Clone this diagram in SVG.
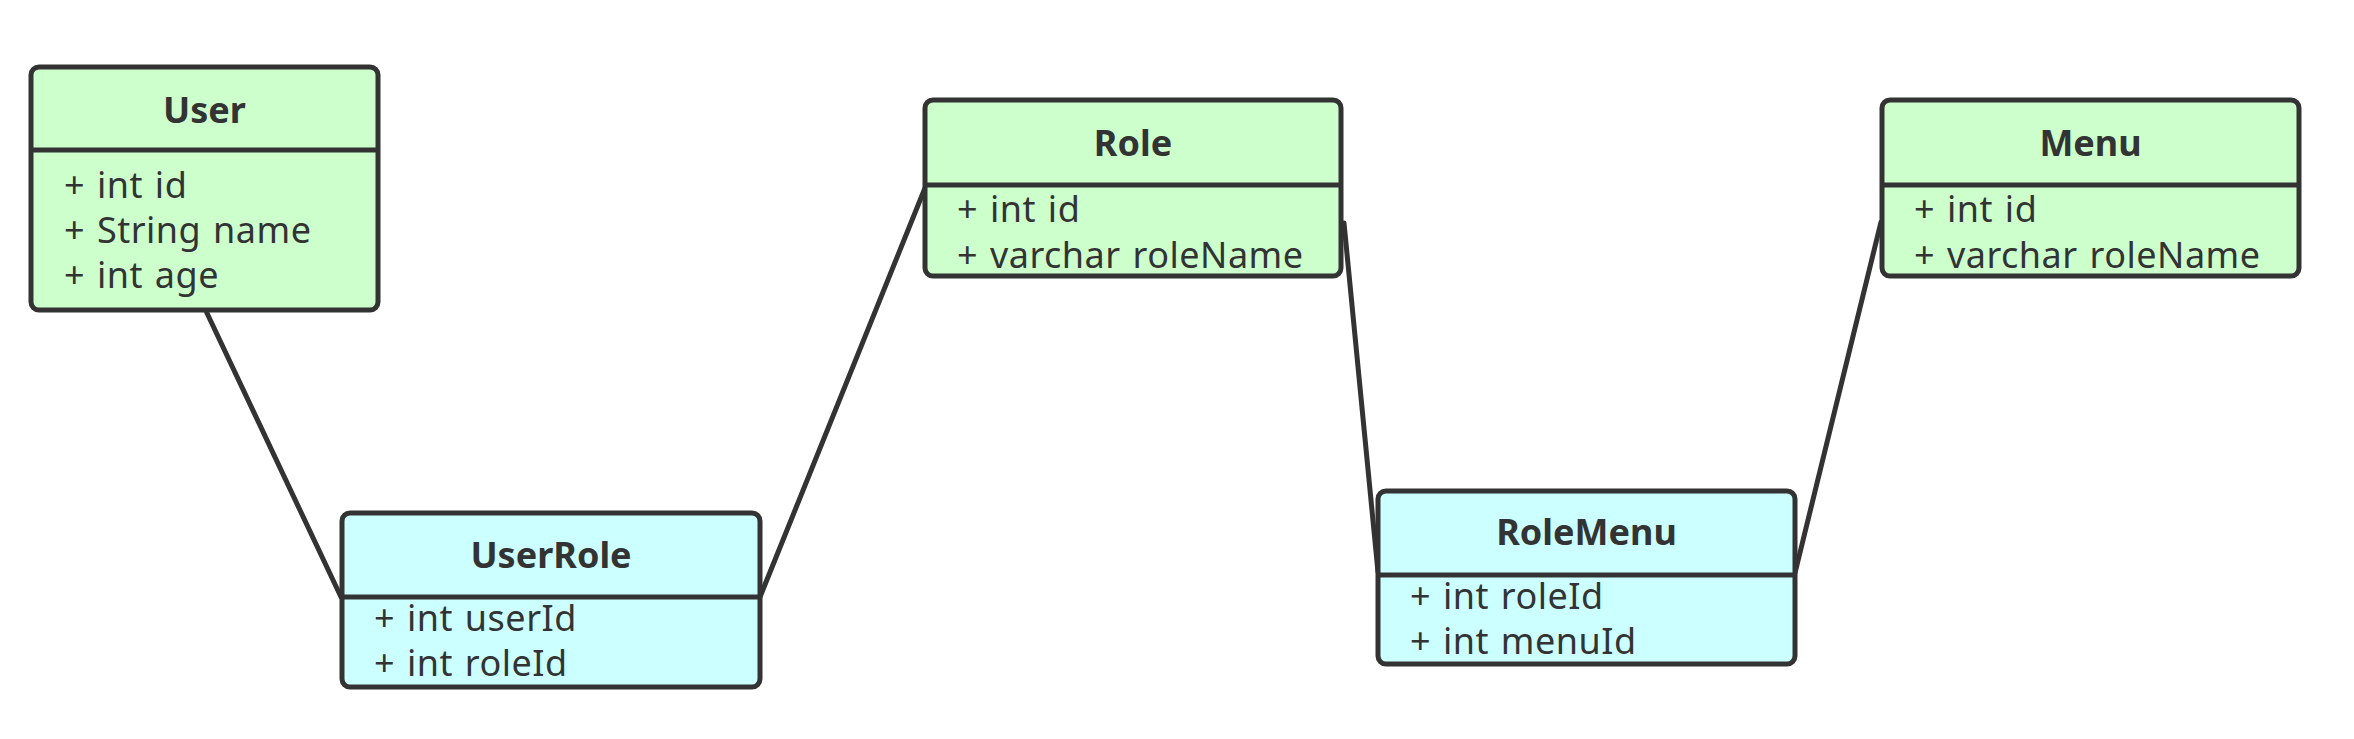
<svg xmlns="http://www.w3.org/2000/svg" width="2354" height="739" viewBox="0 0 2354 739">
<style>
.box{stroke:#333333;stroke-width:5;}
.ent{fill:#ccffcc;}
.rel{fill:#ccffff;}
.div{stroke:#333333;stroke-width:5;}
.title{font-family:"Noto Sans","DejaVu Sans",sans-serif;font-size:36px;font-weight:bold;fill:#333333;text-anchor:middle;}
.attr{font-family:"Noto Sans","DejaVu Sans",sans-serif;font-size:36px;fill:#333333;letter-spacing:0.5px;word-spacing:2px;}
.conn{stroke:#333333;stroke-width:5;fill:none;stroke-linecap:round;}
</style>
<rect width="2354" height="739" fill="#ffffff"/>
<g id="connectors">
<line class="conn" x1="206" y1="311" x2="341" y2="597"/>
<line class="conn" x1="760" y1="597" x2="925" y2="188"/>
<line class="conn" x1="1344" y1="223" x2="1378" y2="572"/>
<line class="conn" x1="1881" y1="222" x2="1795" y2="573"/>
</g>
<g id="User">
<rect class="box ent" x="31" y="67" width="347" height="243" rx="8"/>
<line class="div" x1="31" y1="150" x2="378" y2="150"/>
<text class="title" x="204.5" y="123">User</text>
<text class="attr" x="64" y="198">+ int id</text>
<text class="attr" x="64" y="243">+ String name</text>
<text class="attr" x="64" y="288">+ int age</text>
</g>
<g id="UserRole">
<rect class="box rel" x="342" y="513" width="418" height="174" rx="8"/>
<line class="div" x1="342" y1="597" x2="760" y2="597"/>
<text class="title" x="551" y="568">UserRole</text>
<text class="attr" x="374" y="631">+ int userId</text>
<text class="attr" x="374" y="676">+ int roleId</text>
</g>
<g id="Role">
<rect class="box ent" x="925" y="100" width="416" height="176" rx="8"/>
<line class="div" x1="925" y1="185" x2="1341" y2="185"/>
<text class="title" x="1133" y="156">Role</text>
<text class="attr" x="957" y="222">+ int id</text>
<text class="attr" x="957" y="268">+ varchar roleName</text>
</g>
<g id="RoleMenu">
<rect class="box rel" x="1378" y="491" width="417" height="173" rx="8"/>
<line class="div" x1="1378" y1="575" x2="1795" y2="575"/>
<text class="title" x="1586.5" y="545">RoleMenu</text>
<text class="attr" x="1410" y="609">+ int roleId</text>
<text class="attr" x="1410" y="654">+ int menuId</text>
</g>
<g id="Menu">
<rect class="box ent" x="1882" y="100" width="417" height="176" rx="8"/>
<line class="div" x1="1882" y1="185" x2="2299" y2="185"/>
<text class="title" x="2090.5" y="156">Menu</text>
<text class="attr" x="1914" y="222">+ int id</text>
<text class="attr" x="1914" y="268">+ varchar roleName</text>
</g>
</svg>
